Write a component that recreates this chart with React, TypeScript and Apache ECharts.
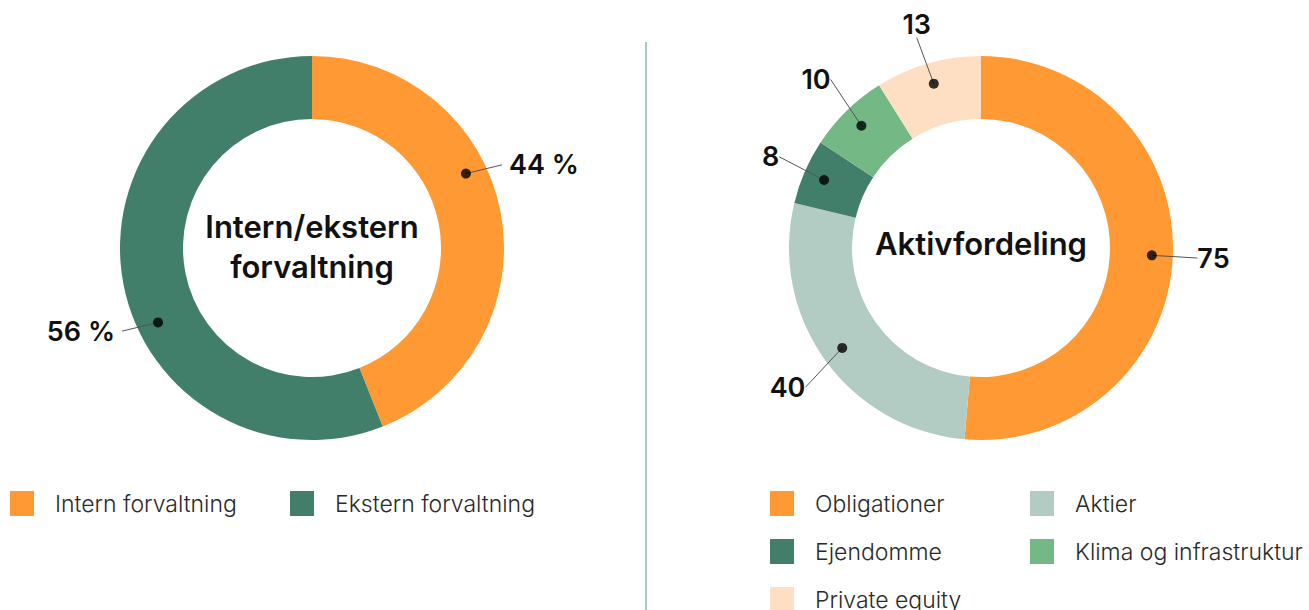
import React, { useEffect, useRef } from "react";
import * as echarts from "echarts";

// ---- data ----
const mgmtCategories = ["Intern forvaltning", "Ekstern forvaltning"];
const mgmtValues = [44, 56];
const mgmtColors = ["#FF9933", "#417F6A"];

const assetCategories = ["Obligationer", "Aktier", "Ejendomme", "Klima og infrastruktur", "Private equity"];
const assetValues = [75, 40, 8, 10, 13];
const assetColors = ["#FF9933", "#B2CCC3", "#417F6A", "#74B985", "#FFDFC3"];

const leftTitle = "Intern/ekstern\nforvaltning";
const rightTitle = "Aktivfordeling";

const FONT = "Inter, 'Open Sans', sans-serif";

function midpoints(values: number[]) {
  const out: number[] = [];
  let acc = 0;
  for (const v of values) {
    out.push(acc + v / 2);
    acc += v;
  }
  return out;
}
const sum = (a: number[]) => a.reduce((s, v) => s + v, 0);

// place the label beyond the end of a straight leader line
const radialLayout = (params: any) => {
  const pts = params.labelLinePoints;
  if (!pts || pts.length < 2) return {};
  const p0 = pts[0];
  const p1 = pts[pts.length - 1];
  let dx = p1[0] - p0[0];
  let dy = p1[1] - p0[1];
  const len = Math.hypot(dx, dy) || 1;
  dx /= len;
  dy /= len;
  const w = params.labelRect.width;
  const h = params.labelRect.height;
  const k = 5 + (Math.abs(dx) * w) / 2 + (Math.abs(dy) * h) / 2;
  return { x: p1[0] + dx * k, y: p1[1] + dy * k, align: "center", verticalAlign: "middle" };
};

// keep default label placement, but draw the leader as one straight segment
const straightLayout = (params: any) => {
  const pts = params.labelLinePoints;
  if (!pts || pts.length < 2) return {};
  return { labelLinePoints: [pts[0], pts[pts.length - 1]] };
};

export default function App() {
  const ref = useRef<HTMLDivElement>(null);

  useEffect(() => {
    if (!ref.current) return;
    const chart = echarts.init(ref.current, undefined, { renderer: "svg" });

    const L = [312, 248];
    const R = [981, 248];
    const outer = 192;
    const inner = 129;
    const anchorR = 171;

    const donut = (center: number[], names: string[], values: number[], colors: string[]) => ({
      type: "pie",
      center,
      radius: [inner, outer],
      startAngle: 90,
      clockwise: true,
      avoidLabelOverlap: false,
      silent: true,
      label: { show: false },
      labelLine: { show: false },
      emphasis: { disabled: true },
      itemStyle: { borderWidth: 0 },
      data: names.map((n, i) => ({ name: n, value: values[i], itemStyle: { color: colors[i] } })),
      z: 1,
    });

    const labelPie = (
      center: number[],
      names: string[],
      values: number[],
      startAngle: number,
      fmt: string,
      len1: number,
      len2: number,
      layout: any
    ) => ({
      type: "pie",
      center,
      radius: [0, anchorR],
      startAngle,
      clockwise: true,
      avoidLabelOverlap: false,
      silent: true,
      emphasis: { disabled: true },
      itemStyle: { color: "rgba(0,0,0,0)", borderWidth: 0 },
      label: {
        show: true,
        position: "outside",
        formatter: fmt,
        fontFamily: FONT,
        fontSize: 27,
        fontWeight: 600,
        color: "#111",
        distanceToLabelLine: 7,
      },
      labelLine: { show: true, length: len1, length2: len2, smooth: false, lineStyle: { color: "#555", width: 1 } },
      labelLayout: layout,
      data: names.map((n, i) => ({ name: n, value: values[i] })),
      z: 3,
    });

    const mgmtMid = midpoints(mgmtValues);
    const assetMid = midpoints(assetValues);

    const legendBase = {
      icon: "rect",
      itemWidth: 24,
      itemHeight: 25,
      padding: 0,
      itemGap: 0,
      selectedMode: false,
      itemStyle: { borderWidth: 0 },
      textStyle: { fontFamily: FONT, fontSize: 23, fontWeight: 300, color: "#2a2a2a", padding: [0, 0, 0, 16] },
    };

    chart.setOption({
      animation: false,
      polar: [
        { center: L, radius: [0, anchorR] },
        { center: R, radius: [0, anchorR] },
      ],
      angleAxis: [
        { polarIndex: 0, type: "value", min: 0, max: sum(mgmtValues), startAngle: 105, clockwise: true, show: false },
        { polarIndex: 1, type: "value", min: 0, max: sum(assetValues), startAngle: 90, clockwise: true, show: false },
      ],
      radiusAxis: [
        { polarIndex: 0, type: "value", min: 0, max: 1, show: false },
        { polarIndex: 1, type: "value", min: 0, max: 1, show: false },
      ],
      legend: [
        { ...legendBase, data: [mgmtCategories[0]], left: 10, top: 491 },
        { ...legendBase, data: [mgmtCategories[1]], left: 290, top: 491 },
        { ...legendBase, data: [assetCategories[0]], left: 770, top: 491 },
        { ...legendBase, data: [assetCategories[1]], left: 1030, top: 491 },
        { ...legendBase, data: [assetCategories[2]], left: 770, top: 539 },
        { ...legendBase, data: [assetCategories[3]], left: 1030, top: 539 },
        { ...legendBase, data: [assetCategories[4]], left: 770, top: 587 },
      ],
      graphic: [
        {
          type: "line",
          shape: { x1: 646, y1: 42, x2: 646, y2: 610 },
          style: { stroke: "#A8CBC3", lineWidth: 2 },
          silent: true,
        },
        {
          type: "text",
          x: L[0],
          y: 246,
          style: {
            text: leftTitle,
            align: "center",
            verticalAlign: "middle",
            fontFamily: FONT,
            fontSize: 31,
            fontWeight: 600,
            lineHeight: 40,
            fill: "#111",
          },
          z: 10,
        },
        {
          type: "text",
          x: R[0],
          y: 243,
          style: {
            text: rightTitle,
            align: "center",
            verticalAlign: "middle",
            fontFamily: FONT,
            fontSize: 31,
            fontWeight: 600,
            fill: "#111",
          },
          z: 10,
        },
      ],
      series: [
        donut(L, mgmtCategories, mgmtValues, mgmtColors),
        donut(R, assetCategories, assetValues, assetColors),
        labelPie(L, mgmtCategories, mgmtValues, 105, "{c} %", 20, 18, straightLayout),
        labelPie(R, assetCategories, assetValues, 90, "{c}", 40, 0, radialLayout),
        {
          type: "scatter",
          coordinateSystem: "polar",
          polarIndex: 0,
          symbolSize: 10,
          silent: true,
          itemStyle: { color: "#000" },
          data: mgmtMid.map((m) => [1, m]),
          z: 5,
        },
        {
          type: "scatter",
          coordinateSystem: "polar",
          polarIndex: 1,
          symbolSize: 10,
          silent: true,
          itemStyle: { color: "#000" },
          data: assetMid.map((m) => [1, m]),
          z: 5,
        },
      ],
    });

    return () => chart.dispose();
  }, []);

  return (
    <div
      ref={ref}
      style={{ position: "fixed", left: 0, top: 0, width: 1309, height: 610, background: "#fff" }}
    />
  );
}
